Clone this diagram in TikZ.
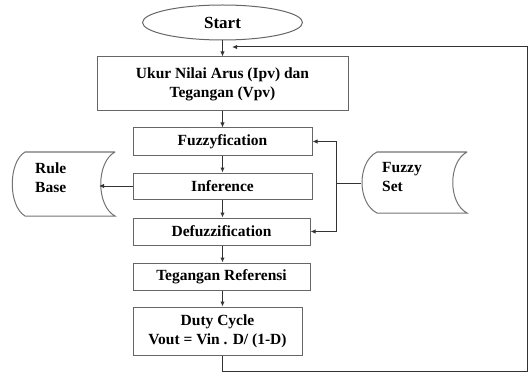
\documentclass[tikz,border=0pt]{standalone}
\usepackage{fontspec}
\setmainfont{Liberation Serif}
\usetikzlibrary{arrows.meta,shapes.geometric}

\begin{document}
\begin{tikzpicture}[x=1pt, y=-1pt, font=\bfseries\fontsize{15.5}{19}\selectfont,
	box/.style={draw=black!60, line width=1pt, inner sep=0pt, align=center},
	arr/.style={draw=black!80, line width=1pt, -{Latex[length=5pt,width=4.5pt]}},
	store/.style={draw=black!55, line width=1pt}]
	\useasboundingbox (0,0) rectangle (529,374);
	% main flow
	\node[box, ellipse, minimum width=160pt, minimum height=35pt, font=\bfseries\fontsize{17}{19}\selectfont] (start) at (222.5,22.5) {Start};
	\node[box, minimum width=251pt, minimum height=54pt] (ukur) at (222.5,84) {Ukur Nilai Arus (Ipv) dan\\Tegangan (Vpv)};
	\node[box, minimum width=179pt, minimum height=27pt] (fuzz) at (222.5,141.5) {Fuzzyfication};
	\node[box, minimum width=179pt, minimum height=26pt] (inf) at (222.5,186) {Inference};
	\node[box, minimum width=177pt, minimum height=27pt] (defuzz) at (221.5,231.5) {Defuzzification};
	\node[box, minimum width=177pt, minimum height=27pt] (teg) at (221.5,276.5) {Tegangan Referensi};
	\node[box, minimum width=169pt, minimum height=48pt] (duty) at (217.5,331) {Duty Cycle\\Vout = Vin . D/ (1-D)};
	\draw[arr] (start.south) -- (start.south |- ukur.north);
	\draw[arr] (start.south |- ukur.south) -- (start.south |- fuzz.north);
	\draw[arr] (start.south |- fuzz.south) -- (start.south |- inf.north);
	\draw[arr] (start.south |- inf.south) -- (start.south |- defuzz.north);
	\draw[arr] (start.south |- defuzz.south) -- (start.south |- teg.north);
	\draw[arr] (start.south |- teg.south) -- (start.south |- duty.north);
	% feedback loop
	\coordinate (loopbr) at (527,371);
	\coordinate (looptr) at (527,47);
	\coordinate (loopin) at (232,47);
	\draw[arr] (start.south |- duty.south) -- (start.south |- loopbr) -- (loopbr) -- (looptr) -- (loopin);
	% rule base
	\draw[store] (115,152) -- (25,152) .. controls (8,162) and (8,206) .. (25,216) -- (115,216)
	  .. controls (96,206) and (96,162) .. (115,152);
	\coordinate (rb) at (99,184);
	\node[anchor=west, align=left, inner sep=0pt] (rbtext) at (35,178) {Rule\\Base};
	\draw[arr] (inf.west) -- (rb |- inf.west);
	% fuzzy set
	\draw[store] (467,152) -- (377,152) .. controls (357,162) and (357,203) .. (377,213) -- (467,213)
	  .. controls (448,203) and (448,162) .. (467,152);
	\coordinate (fs) at (361,183);
	\coordinate (fsj) at (336,183);
	\node[anchor=west, align=left, inner sep=0pt] (fstext) at (382,177) {Fuzzy\\Set};
	\draw[draw=black!80, line width=1pt] (fs) -- (fsj);
	\draw[arr] (fsj) |- (fuzz.east);
	\draw[arr] (fsj) |- (defuzz.east);
\end{tikzpicture}
\end{document}
